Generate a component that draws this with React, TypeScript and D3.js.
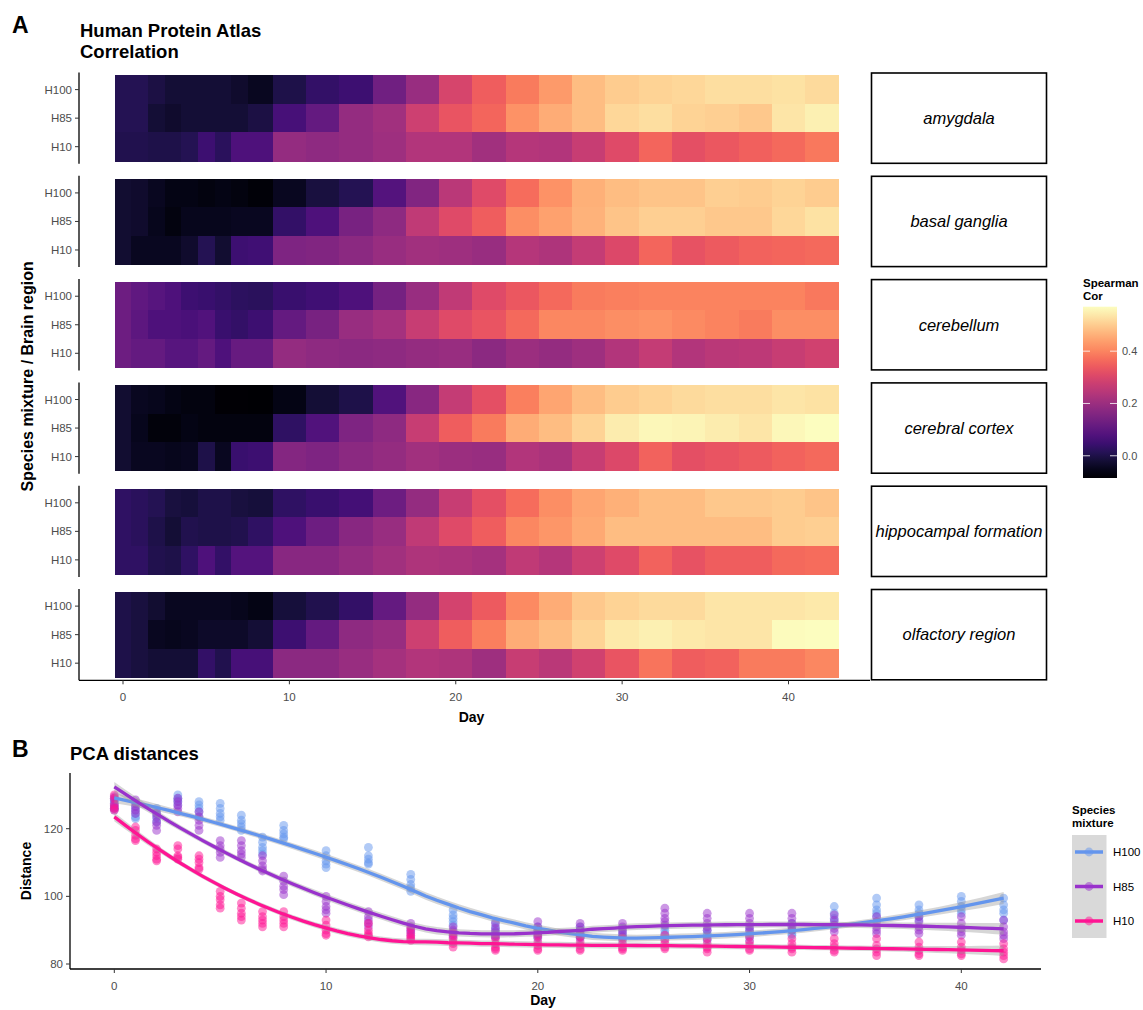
import React from "react";
import * as d3 from "d3";

// ---------- Panel A: Spearman correlation heatmap ----------
const DAYS = [0, 1, 2, 3, 4, 5, 6, 7, 8, 10, 12, 14, 16, 18, 20, 22, 24, 26, 28, 30, 32, 34, 36, 38, 40, 42];
const MIXTURES = ["H100", "H85", "H10"];
const REGIONS = ["amygdala", "basal ganglia", "cerebellum", "cerebral cortex", "hippocampal formation", "olfactory region"];

const amygdalaH100 = [0.01, 0.01, -0.005, -0.02, -0.02, -0.02, -0.02, -0.03, -0.045, 0.0, 0.035, 0.05, 0.13, 0.195, 0.295, 0.345, 0.39, 0.43, 0.48, 0.5, 0.51, 0.515, 0.525, 0.525, 0.53, 0.52];
const amygdalaH85 = [0.01, 0.01, -0.02, -0.03, -0.02, -0.02, -0.02, -0.02, -0.005, 0.065, 0.11, 0.19, 0.21, 0.28, 0.33, 0.36, 0.42, 0.455, 0.48, 0.515, 0.525, 0.51, 0.505, 0.495, 0.535, 0.55];
const amygdalaH10 = [0.005, 0.005, 0.0, 0.0, 0.01, 0.05, 0.02, 0.075, 0.075, 0.19, 0.18, 0.19, 0.205, 0.235, 0.235, 0.21, 0.24, 0.235, 0.27, 0.31, 0.36, 0.32, 0.335, 0.35, 0.365, 0.385];

const basalH100 = [-0.025, -0.03, -0.045, -0.06, -0.06, -0.065, -0.06, -0.065, -0.075, -0.045, -0.01, 0.01, 0.085, 0.16, 0.25, 0.31, 0.37, 0.42, 0.46, 0.48, 0.49, 0.49, 0.505, 0.5, 0.51, 0.5];
const basalH85 = [-0.025, -0.03, -0.05, -0.065, -0.05, -0.05, -0.05, -0.045, -0.045, 0.035, 0.075, 0.145, 0.18, 0.26, 0.31, 0.345, 0.415, 0.44, 0.465, 0.49, 0.505, 0.505, 0.495, 0.495, 0.515, 0.53];
const basalH10 = [-0.025, -0.045, -0.045, -0.045, -0.03, 0.01, -0.025, 0.05, 0.055, 0.155, 0.16, 0.175, 0.195, 0.21, 0.205, 0.195, 0.24, 0.23, 0.265, 0.305, 0.36, 0.325, 0.34, 0.355, 0.36, 0.365];

const cerebellumH100 = [0.125, 0.105, 0.09, 0.075, 0.05, 0.045, 0.035, 0.025, 0.02, 0.045, 0.055, 0.075, 0.14, 0.195, 0.26, 0.31, 0.335, 0.365, 0.39, 0.395, 0.4, 0.4, 0.4, 0.4, 0.4, 0.385];
const cerebellumH85 = [0.125, 0.1, 0.075, 0.075, 0.07, 0.08, 0.045, 0.035, 0.05, 0.11, 0.145, 0.195, 0.215, 0.27, 0.31, 0.33, 0.365, 0.405, 0.405, 0.415, 0.42, 0.41, 0.4, 0.39, 0.415, 0.415];
const cerebellumH10 = [0.125, 0.11, 0.11, 0.09, 0.09, 0.11, 0.075, 0.115, 0.115, 0.19, 0.18, 0.175, 0.18, 0.19, 0.195, 0.175, 0.2, 0.19, 0.205, 0.235, 0.265, 0.235, 0.25, 0.255, 0.27, 0.285];

const cortexH100 = [-0.025, -0.045, -0.05, -0.06, -0.065, -0.065, -0.08, -0.08, -0.085, -0.06, -0.02, 0.0, 0.08, 0.17, 0.265, 0.32, 0.395, 0.445, 0.48, 0.5, 0.51, 0.52, 0.525, 0.525, 0.535, 0.53];
const cortexH85 = [-0.025, -0.05, -0.07, -0.07, -0.06, -0.065, -0.065, -0.065, -0.065, 0.03, 0.08, 0.155, 0.18, 0.27, 0.345, 0.39, 0.455, 0.48, 0.51, 0.545, 0.56, 0.555, 0.545, 0.535, 0.56, 0.57];
const cortexH10 = [-0.025, -0.045, -0.045, -0.05, -0.045, 0.0, -0.045, 0.045, 0.05, 0.165, 0.155, 0.175, 0.19, 0.21, 0.2, 0.195, 0.235, 0.225, 0.27, 0.305, 0.355, 0.32, 0.33, 0.34, 0.355, 0.365];

const hippocampalH100 = [0.03, 0.02, 0.01, -0.01, -0.015, 0.0, 0.0, -0.01, -0.015, 0.03, 0.045, 0.06, 0.125, 0.19, 0.27, 0.32, 0.37, 0.415, 0.445, 0.46, 0.48, 0.48, 0.495, 0.495, 0.5, 0.49];
const hippocampalH85 = [0.03, 0.02, 0.0, -0.02, 0.005, 0.0, 0.0, 0.005, 0.03, 0.075, 0.125, 0.17, 0.195, 0.26, 0.31, 0.345, 0.405, 0.425, 0.45, 0.48, 0.48, 0.48, 0.48, 0.48, 0.5, 0.505];
const hippocampalH10 = [0.03, 0.03, 0.005, 0.0, 0.03, 0.075, 0.035, 0.085, 0.085, 0.17, 0.17, 0.19, 0.21, 0.23, 0.225, 0.215, 0.26, 0.24, 0.28, 0.31, 0.355, 0.325, 0.345, 0.345, 0.365, 0.37];

const olfactoryH100 = [0.0, -0.01, -0.025, -0.045, -0.045, -0.045, -0.045, -0.05, -0.06, -0.015, 0.005, 0.035, 0.11, 0.19, 0.29, 0.34, 0.41, 0.455, 0.495, 0.51, 0.52, 0.52, 0.535, 0.535, 0.535, 0.54];
const olfactoryH85 = [0.0, -0.01, -0.045, -0.05, -0.045, -0.035, -0.035, -0.035, -0.02, 0.05, 0.11, 0.18, 0.195, 0.28, 0.345, 0.395, 0.455, 0.48, 0.51, 0.54, 0.55, 0.54, 0.535, 0.535, 0.565, 0.57];
const olfactoryH10 = [0.0, -0.01, -0.02, -0.02, -0.02, 0.035, 0.005, 0.065, 0.065, 0.175, 0.175, 0.195, 0.215, 0.235, 0.23, 0.205, 0.27, 0.25, 0.285, 0.33, 0.38, 0.345, 0.355, 0.39, 0.39, 0.405];

const HEAT_ROWS: number[][][] = [
  [amygdalaH100, amygdalaH85, amygdalaH10],
  [basalH100, basalH85, basalH10],
  [cerebellumH100, cerebellumH85, cerebellumH10],
  [cortexH100, cortexH85, cortexH10],
  [hippocampalH100, hippocampalH85, hippocampalH10],
  [olfactoryH100, olfactoryH85, olfactoryH10],
];
const HEAT_X_TICKS = [0, 10, 20, 30, 40];
const COLORBAR_TICKS = [0, 0.2, 0.4];

// ---------- Panel B: PCA distances (replicates per day) ----------
const PCA_DAYS = DAYS;
const pcaH100 = [
  [129, 128, 127, 126, 125.5], [126.5, 125.5, 124.5, 123.5, 123], [126, 125, 124, 123, 122],
  [130, 129, 128.5, 128, 127], [128, 127, 126, 125, 123.5], [127.5, 126, 124.5, 123.5, 122.5],
  [124, 122.5, 121.5, 120.5, 119.5], [117.5, 116, 114.5, 113.5, 112.5], [121, 119.5, 118.5, 117.5, 117],
  [113.5, 112, 110.5, 109.5, 108.5], [114.5, 112, 111, 110, 109.5], [106.5, 105, 103.5, 102.5, 101.5],
  [96, 94.5, 93.5, 92.5, 91.5], [92.5, 91, 90, 89, 88], [91, 90, 89, 88, 87.5],
  [91, 90, 89, 88, 87.5], [90.5, 89.5, 88.5, 88, 87], [91, 90, 89, 88.5, 87.5],
  [90, 89, 88.5, 87.5, 87], [90.5, 89.5, 88.5, 88, 87], [92, 91, 90, 89, 88.5],
  [97, 95, 93.5, 92.5, 91.5], [99.5, 97.5, 96, 95, 94], [97.5, 96, 95, 94, 93],
  [100, 98.5, 97, 96, 95], [99.5, 97.5, 96, 95, 93],
];
const pcaH85 = [
  [129.5, 128.5, 127.5, 126.5, 126], [128.5, 127.5, 126.5, 125.5, 124.5], [124.5, 123.5, 122, 121, 119.5],
  [129, 128, 127, 126, 125], [125, 123.5, 122.5, 121, 119.5], [116.5, 115, 114, 113, 111.5],
  [116.5, 115, 113.5, 112.5, 111.5], [112, 110.5, 109, 108, 107.5], [106, 104.5, 103, 102, 100.5],
  [100, 98.5, 97, 96, 95], [95.5, 94, 93, 92, 91], [92, 91, 90, 89.5, 88.5],
  [91, 90, 89.5, 88.5, 88], [92, 90.5, 89.5, 88.5, 88], [92.5, 91, 90, 89, 88.5],
  [92, 91, 90, 89, 88], [92, 91, 90, 89, 88], [96.5, 95, 93.5, 92.5, 91.5],
  [95, 93.5, 92, 91, 90], [95, 93.5, 92, 91, 90], [95, 93.5, 92, 91, 90],
  [94.5, 93, 91.5, 90.5, 89.5], [94, 92.5, 91, 90, 89], [94, 92.5, 91, 90, 89],
  [94, 92, 90.5, 89.5, 88.5], [93, 91, 89.5, 88.5, 87.5],
];
const pcaH10 = [
  [130, 129, 127, 126, 125.5], [120.5, 119.5, 118, 117, 116.5], [114, 113, 112, 111, 110.5],
  [115, 114, 112, 111.5, 111], [112, 111, 110, 108.5, 108], [101.5, 100, 99, 97.5, 96.5],
  [98, 96.5, 95, 94, 93], [95.5, 94, 93, 92, 91], [95.5, 94, 93, 92, 91],
  [93, 91.5, 90, 89, 88.5], [92, 90, 89, 88.5, 88], [90.5, 89, 88, 87.5, 87],
  [89, 87.5, 86.5, 86, 85], [87.5, 86, 85, 84.5, 84], [88, 86.5, 85.5, 84.5, 84],
  [88, 86.5, 85.5, 84.5, 84], [87.5, 86, 85, 84.5, 84], [88.5, 87, 86, 85, 84.5],
  [87.5, 86, 85, 84.5, 83.5], [88, 86.5, 85.5, 84.5, 84], [87.5, 86, 85, 84.5, 83.5],
  [87.5, 86, 85, 84, 83.5], [87.5, 85.5, 84.5, 83.5, 82.5], [86.5, 85, 84, 83, 82.5],
  [86.5, 85, 84, 83, 82.5], [86, 84.5, 83.5, 82.5, 81.5],
];
const PCA_GROUPS = ["H100", "H85", "H10"];
const PCA_SERIES = [pcaH100, pcaH85, pcaH10];
const PCA_COLORS = ["#6495ED", "#9932CC", "#FF1493"];
const PCA_X_TICKS = [0, 10, 20, 30, 40];
const PCA_Y_TICKS = [80, 100, 120];

const FONT = "'Liberation Sans', Arial, Helvetica, sans-serif";
const TICK_GREY = "#4d4d4d";

// ---------- local quadratic regression (loess, span 0.75, tricube) ----------
function inv3(m: number[][]): number[][] {
  const [a, b, c] = m[0], [d, e, f] = m[1], [g, h, i] = m[2];
  const A = e * i - f * h, B = -(d * i - f * g), C = d * h - e * g;
  const det = a * A + b * B + c * C;
  return [
    [A / det, -(b * i - c * h) / det, (b * f - c * e) / det],
    [B / det, (a * i - c * g) / det, -(a * f - c * d) / det],
    [C / det, -(a * h - b * g) / det, (a * e - b * d) / det],
  ];
}

function loessWeights(xs: number[], x0: number, span: number): number[] {
  const n = xs.length;
  const q = Math.max(3, Math.floor(n * span));
  const dist = xs.map((x) => Math.abs(x - x0));
  const sorted = [...dist].sort((p, r) => p - r);
  const h = Math.max(sorted[q - 1], 1e-9) * 1.000001;
  const w = dist.map((di) => {
    const u = di / h;
    return u < 1 ? Math.pow(1 - u * u * u, 3) : 0;
  });
  const M = [[0, 0, 0], [0, 0, 0], [0, 0, 0]];
  xs.forEach((x, k) => {
    const dx = x - x0;
    const v = [1, dx, dx * dx];
    for (let a = 0; a < 3; a++) for (let b = 0; b < 3; b++) M[a][b] += w[k] * v[a] * v[b];
  });
  const Mi = inv3(M);
  return xs.map((x, k) => {
    const dx = x - x0;
    return w[k] * (Mi[0][0] + Mi[0][1] * dx + Mi[0][2] * dx * dx);
  });
}

function loessSmooth(xs: number[], ys: number[], grid: number[], span = 0.75) {
  const n = xs.length;
  const L = xs.map((x) => loessWeights(xs, x, span));
  let trL = 0, frob = 0, rss = 0;
  L.forEach((row, i) => {
    trL += row[i];
    let fit = 0;
    row.forEach((l, j) => { fit += l * ys[j]; frob += l * l; });
    rss += (ys[i] - fit) ** 2;
  });
  const sigma = Math.sqrt(rss / (n - 2 * trL + frob));
  return grid.map((x0) => {
    const l = loessWeights(xs, x0, span);
    const fit = d3.sum(l.map((v, j) => v * ys[j]));
    const se = sigma * Math.sqrt(d3.sum(l.map((v) => v * v)));
    return { x: x0, y: fit, lo: fit - 1.98 * se, hi: fit + 1.98 * se };
  });
}

export default function App() {
  // ---- Panel A scales ----
  const allHeat = HEAT_ROWS.flat(2);
  const heatDomain = d3.extent(allHeat) as [number, number];
  const color = d3.scaleSequential(d3.interpolateMagma).domain(heatDomain);
  const heatX = d3.scaleLinear().domain([0, 40]).range([123, 788.5]);
  const PANEL_LEFT = 79, PANEL_RIGHT = 870;
  const PANEL_TOP0 = 72.5, PANEL_H = 91.3, PANEL_STEP = 103.3;

  const edges = DAYS.map((d, i) => {
    const left = i === 0 ? d - (DAYS[1] - DAYS[0]) / 2 : (DAYS[i - 1] + d) / 2;
    const right = i === DAYS.length - 1 ? d + (d - DAYS[i - 1]) / 2 : (d + DAYS[i + 1]) / 2;
    return [left, right];
  });

  const lastBottom = PANEL_TOP0 + (REGIONS.length - 1) * PANEL_STEP + PANEL_H;

  // colour bar
  const CB_X = 1083, CB_W = 34, CB_TOP = 306.7, CB_BOTTOM = 478;
  const cbY = d3.scaleLinear().domain(heatDomain).range([CB_BOTTOM, CB_TOP]);
  const gradStops = d3.range(0, 1.0001, 0.05);

  // ---- Panel B scales ----
  const pcaX = d3.scaleLinear().domain([0, 40]).range([114.3, 961.3]);
  const pcaY = d3.scaleLinear().domain([80, 120]).range([964, 828.7]);
  const B_LEFT = 70, B_RIGHT = 1041, B_TOP = 773, B_BOTTOM = 969;

  const grid = d3.range(0, 42.0001, 42 / 80);
  const smooths = PCA_SERIES.map((series) => {
    const xs: number[] = [], ys: number[] = [];
    series.forEach((vals, i) => vals.forEach((v) => { xs.push(PCA_DAYS[i]); ys.push(v); }));
    return loessSmooth(xs, ys, grid);
  });
  const line = d3.line<any>().x((d) => pcaX(d.x)).y((d) => pcaY(d.y)).curve(d3.curveLinear);
  const band = d3.area<any>().x((d) => pcaX(d.x)).y0((d) => pcaY(d.lo)).y1((d) => pcaY(d.hi));

  return (
    <svg width={1143} height={1010} style={{ position: "absolute", left: 0, top: 0, background: "#fff" }} fontFamily={FONT}>
      <defs>
        <linearGradient id="cbGrad" x1="0" y1="1" x2="0" y2="0">
          {gradStops.map((t) => (
            <stop key={t} offset={`${t * 100}%`} stopColor={d3.interpolateMagma(t)} />
          ))}
        </linearGradient>
      </defs>
      <rect x={0} y={0} width={1143} height={1010} fill="#fff" />

      {/* Panel A headings */}
      <text x={12} y={33} fontSize={23} fontWeight="bold">A</text>
      <text x={80} y={37} fontSize={18.5} fontWeight="bold">Human Protein Atlas</text>
      <text x={80} y={58} fontSize={18.5} fontWeight="bold">Correlation</text>

      {REGIONS.map((region, r) => {
        const top = PANEL_TOP0 + r * PANEL_STEP;
        const yBand = d3.scaleBand().domain(MIXTURES).range([top, top + PANEL_H]).paddingInner(0).paddingOuter(0.1);
        return (
          <g key={region}>
            <g shapeRendering="crispEdges">
              {MIXTURES.map((m, mi) =>
                DAYS.map((d, di) => (
                  <rect
                    key={`${m}-${d}`}
                    x={heatX(edges[di][0])}
                    y={yBand(m)!}
                    width={heatX(edges[di][1]) - heatX(edges[di][0]) + 0.6}
                    height={yBand.bandwidth() + 0.6}
                    fill={color(HEAT_ROWS[r][mi][di])}
                  />
                ))
              )}
            </g>
            <line x1={PANEL_LEFT} x2={PANEL_LEFT} y1={top} y2={top + PANEL_H} stroke="#000" strokeWidth={1.3} />
            {MIXTURES.map((m) => {
              const cy = yBand(m)! + yBand.bandwidth() / 2;
              return (
                <g key={m}>
                  <line x1={PANEL_LEFT - 4} x2={PANEL_LEFT} y1={cy} y2={cy} stroke="#333" strokeWidth={1} />
                  <text x={PANEL_LEFT - 7} y={cy} dy="0.35em" textAnchor="end" fontSize={11.5} fill={TICK_GREY}>{m}</text>
                </g>
              );
            })}
            <rect x={871.5} y={top + 0.5} width={175} height={PANEL_H - 1} fill="#fff" stroke="#000" strokeWidth={1.6} />
            <text x={959} y={top + PANEL_H / 2} dy="0.35em" textAnchor="middle" fontSize={16.5} fontStyle="italic">{region}</text>
          </g>
        );
      })}

      {/* Panel A x axis */}
      <line x1={PANEL_LEFT} x2={PANEL_RIGHT} y1={lastBottom} y2={lastBottom} stroke="#000" strokeWidth={1.3} />
      {HEAT_X_TICKS.map((t) => (
        <g key={t}>
          <line x1={heatX(t)} x2={heatX(t)} y1={lastBottom} y2={lastBottom + 4} stroke="#333" strokeWidth={1} />
          <text x={heatX(t)} y={lastBottom + 21} textAnchor="middle" fontSize={11.5} fill={TICK_GREY}>{t}</text>
        </g>
      ))}
      <text x={(PANEL_LEFT + PANEL_RIGHT) / 2 - 3} y={lastBottom + 42} textAnchor="middle" fontSize={14} fontWeight="bold">Day</text>
      <text
        transform={`translate(33,${(PANEL_TOP0 + lastBottom) / 2}) rotate(-90)`}
        textAnchor="middle" fontSize={16} fontWeight="bold"
      >Species mixture / Brain region</text>

      {/* colour bar legend */}
      <text x={CB_X} y={287} fontSize={11.5} fontWeight="bold">Spearman</text>
      <text x={CB_X} y={300} fontSize={11.5} fontWeight="bold">Cor</text>
      <rect x={CB_X} y={CB_TOP} width={CB_W} height={CB_BOTTOM - CB_TOP} fill="url(#cbGrad)" />
      {COLORBAR_TICKS.map((t) => (
        <g key={t}>
          <line x1={CB_X} x2={CB_X + 7} y1={cbY(t)} y2={cbY(t)} stroke="#fff" strokeOpacity={0.8} strokeWidth={1} />
          <line x1={CB_X + CB_W - 7} x2={CB_X + CB_W} y1={cbY(t)} y2={cbY(t)} stroke="#fff" strokeOpacity={0.8} strokeWidth={1} />
          <text x={CB_X + CB_W + 5} y={cbY(t)} dy="0.35em" fontSize={11} fill={TICK_GREY}>{t.toFixed(1)}</text>
        </g>
      ))}

      {/* Panel B */}
      <text x={12} y={757} fontSize={23} fontWeight="bold">B</text>
      <text x={70} y={760} fontSize={18.5} fontWeight="bold">PCA distances</text>

      {PCA_SERIES.map((series, g) => (
        <g key={PCA_GROUPS[g]}>
          {series.map((vals, i) =>
            vals.map((v, k) => (
              <circle key={`${i}-${k}`} cx={pcaX(PCA_DAYS[i])} cy={pcaY(v)} r={4.4} fill={PCA_COLORS[g]} fillOpacity={0.5} />
            ))
          )}
        </g>
      ))}
      {smooths.map((s, g) => (
        <g key={PCA_GROUPS[g]}>
          <path d={band(s)!} fill="#999999" fillOpacity={0.4} />
          <path d={line(s)!} fill="none" stroke={PCA_COLORS[g]} strokeWidth={3.3} />
        </g>
      ))}

      <line x1={B_LEFT} x2={B_LEFT} y1={B_TOP} y2={B_BOTTOM} stroke="#000" strokeWidth={1.3} />
      <line x1={B_LEFT} x2={B_RIGHT} y1={B_BOTTOM} y2={B_BOTTOM} stroke="#000" strokeWidth={1.3} />
      {PCA_Y_TICKS.map((t) => (
        <g key={t}>
          <line x1={B_LEFT - 4} x2={B_LEFT} y1={pcaY(t)} y2={pcaY(t)} stroke="#333" />
          <text x={B_LEFT - 7} y={pcaY(t)} dy="0.35em" textAnchor="end" fontSize={11.5} fill={TICK_GREY}>{t}</text>
        </g>
      ))}
      {PCA_X_TICKS.map((t) => (
        <g key={t}>
          <line x1={pcaX(t)} x2={pcaX(t)} y1={B_BOTTOM} y2={B_BOTTOM + 4} stroke="#333" />
          <text x={pcaX(t)} y={B_BOTTOM + 21} textAnchor="middle" fontSize={11.5} fill={TICK_GREY}>{t}</text>
        </g>
      ))}
      <text x={543} y={1005} textAnchor="middle" fontSize={14} fontWeight="bold">Day</text>
      <text transform={`translate(31,${(B_TOP + B_BOTTOM) / 2}) rotate(-90)`} textAnchor="middle" fontSize={14} fontWeight="bold">Distance</text>

      {/* Panel B legend */}
      <text x={1072} y={814} fontSize={11.5} fontWeight="bold">Species</text>
      <text x={1072} y={827} fontSize={11.5} fontWeight="bold">mixture</text>
      <rect x={1072} y={835} width={34.5} height={103} fill="#d9d9d9" />
      {PCA_GROUPS.map((g, i) => {
        const cy = 852 + i * 34.5;
        return (
          <g key={g}>
            <line x1={1075} x2={1103} y1={cy} y2={cy} stroke={PCA_COLORS[i]} strokeWidth={3.5} />
            <circle cx={1089} cy={cy} r={4.4} fill={PCA_COLORS[i]} fillOpacity={0.5} />
            <text x={1113} y={cy} dy="0.35em" fontSize={11.5}>{g}</text>
          </g>
        );
      })}
    </svg>
  );
}
